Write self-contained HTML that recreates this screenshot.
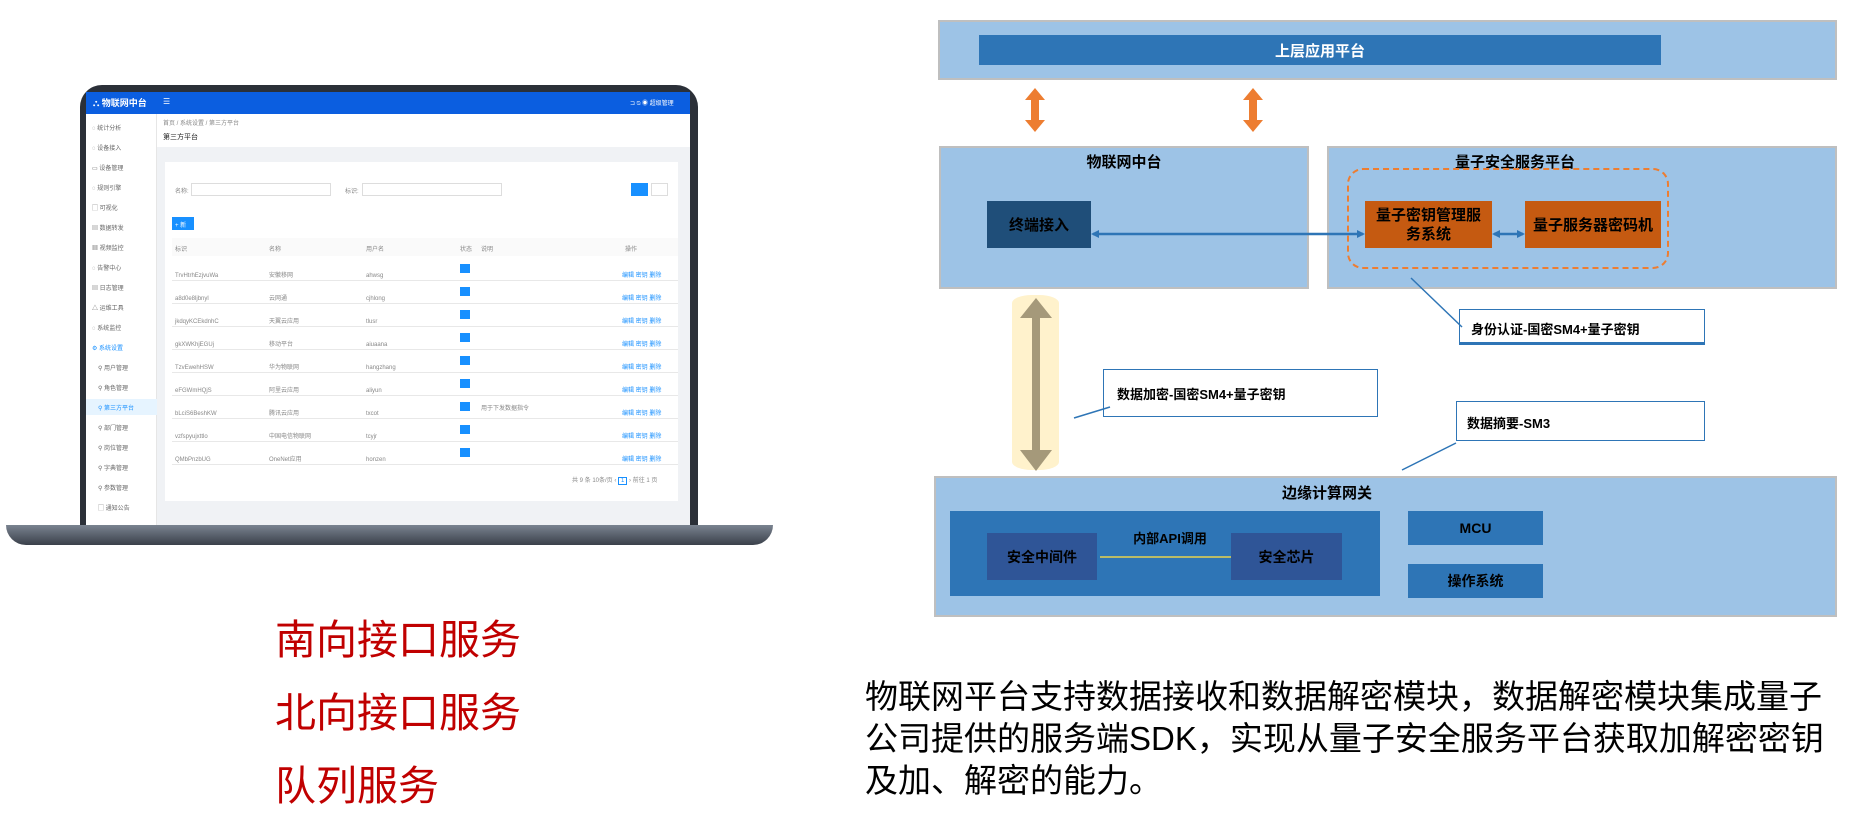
<!DOCTYPE html>
<html><head><meta charset="utf-8"><style>
*{margin:0;padding:0;box-sizing:border-box}
body{width:1852px;height:819px;background:#fff;position:relative;overflow:hidden;font-family:"Liberation Sans","Noto Sans CJK SC",sans-serif}
.a{position:absolute}
.c{display:flex;align-items:center;justify-content:center;text-align:center}
.lb{background:#9dc3e6;border:2px solid #bfbfbf}
.t{font-weight:bold;font-size:15px;color:#000}
.s{font-size:6px;color:#888;white-space:nowrap}
.sb{font-size:6px;color:#666;white-space:nowrap}
</style></head><body>

<div class="a" style="left:80px;top:85px;width:618px;height:448px;background:#2b3038;border-radius:22px 22px 0 0"></div>
<div class="a" style="left:6px;top:525px;width:767px;height:20px;background:linear-gradient(#7a8390,#3a404a);border-radius:0 0 40px 40px"></div>
<div class="a" style="left:86px;top:92px;width:604px;height:433px;background:#f0f2f5"></div>
<div class="a" style="left:86px;top:92px;width:604px;height:22px;background:#0b5ee0"></div>
<div class="a" style="left:93px;top:96px;font-size:9px;color:#fff;font-weight:bold">⛬ 物联网中台</div>
<div class="a" style="left:163px;top:97px;font-size:8px;color:#fff">☰</div>
<div class="a" style="left:630px;top:98px;font-size:6px;color:#fff">⊐ ⍉ ◉ 超级管理</div>
<div class="a" style="left:86px;top:114px;width:71px;height:411px;background:#fff;border-right:1px solid #e6e6e6"></div>
<div class="a" style="left:86px;top:123px">
<div class="sb" style="position:absolute;left:6px;top:0">◌ 统计分析</div>
<div class="sb" style="position:absolute;left:6px;top:20px">◌ 设备接入</div>
<div class="sb" style="position:absolute;left:6px;top:40px">▭ 设备管理</div>
<div class="sb" style="position:absolute;left:6px;top:60px">◌ 规则引擎</div>
<div class="sb" style="position:absolute;left:6px;top:80px">▢ 可视化</div>
<div class="sb" style="position:absolute;left:6px;top:100px">▤ 数据转发</div>
<div class="sb" style="position:absolute;left:6px;top:120px">▦ 视频监控</div>
<div class="sb" style="position:absolute;left:6px;top:140px">◌ 告警中心</div>
<div class="sb" style="position:absolute;left:6px;top:160px">▤ 日志管理</div>
<div class="sb" style="position:absolute;left:6px;top:180px">△ 运维工具</div>
<div class="sb" style="position:absolute;left:6px;top:200px">◌ 系统监控</div>
<div class="sb" style="position:absolute;left:6px;top:220px;color:#1890ff">⚙ 系统设置</div>
<div class="sb" style="position:absolute;left:12px;top:240px">⚲ 用户管理</div>
<div class="sb" style="position:absolute;left:12px;top:260px">⚲ 角色管理</div>
<div class="a" style="left:0;top:276px;width:71px;height:16px;background:#e6f4ff"></div>
<div class="sb" style="position:absolute;left:12px;top:280px;color:#1890ff">⚲ 第三方平台</div>
<div class="sb" style="position:absolute;left:12px;top:300px">⚲ 部门管理</div>
<div class="sb" style="position:absolute;left:12px;top:320px">⚲ 岗位管理</div>
<div class="sb" style="position:absolute;left:12px;top:340px">⚲ 字典管理</div>
<div class="sb" style="position:absolute;left:12px;top:360px">⚲ 参数管理</div>
<div class="sb" style="position:absolute;left:12px;top:380px">▢ 通知公告</div>
</div>
<div class="a" style="left:157px;top:114px;width:533px;height:33px;background:#fff"></div>
<div class="a s" style="left:163px;top:118px">首页 / 系统设置 / 第三方平台</div>
<div class="a" style="left:163px;top:132px;font-size:7px;color:#222">第三方平台</div>
<div class="a" style="left:165px;top:162px;width:513px;height:339px;background:#fff"></div>
<div class="a s" style="left:175px;top:186px">名称: </div>
<div class="a" style="left:191px;top:183px;width:140px;height:13px;border:1px solid #ddd"></div>
<div class="a s" style="left:345px;top:186px">标识: </div>
<div class="a" style="left:362px;top:183px;width:140px;height:13px;border:1px solid #ddd"></div>
<div class="a" style="left:631px;top:183px;width:17px;height:13px;background:#1890ff"></div>
<div class="a" style="left:651px;top:183px;width:17px;height:13px;border:1px solid #ddd"></div>
<div class="a" style="left:172px;top:217px;width:22px;height:13px;background:#1890ff;font-size:6px;color:#fff;padding:3px">+ 新增</div>
<div class="a" style="left:172px;top:238px;width:506px;height:18px;background:#fafafa"></div>
<div class="a s" style="left:175px;top:244px">标识</div><div class="a s" style="left:269px;top:244px">名称</div><div class="a s" style="left:366px;top:244px">用户名</div><div class="a s" style="left:460px;top:244px">状态</div><div class="a s" style="left:481px;top:244px">说明</div><div class="a s" style="left:625px;top:244px">操作</div>
<div class="a" style="left:172px;top:258px;width:506px;height:207px;background:repeating-linear-gradient(#fff 0 22px,#e8e8e8 22px 23px)"></div>
<div class="a" style="left:175px;top:265px;font-size:6px;color:#888;line-height:23px;white-space:pre">TrvHtrhEzjvuWa
a8d0e8ljbnyl
jkdqyKCEkdnhC
gkXWKhjEGUj
TzvEwehHSW
eFGWmHQjS
bLciS6BeshKW
vzfspyujxttlo
QMbPnzbUG</div>
<div class="a" style="left:269px;top:265px;font-size:6px;color:#888;line-height:23px;white-space:pre">安徽移网
云网通
天翼云应用
移动平台
华为物联网
阿里云应用
腾讯云应用
中国电信物联网
OneNet应用</div>
<div class="a" style="left:366px;top:265px;font-size:6px;color:#888;line-height:23px;white-space:pre">ahwsg
cjhlong
tlusr
aiuaana
hangzhang
aliyun
txcot
tcyjr
honzen</div>
<div class="a" style="left:460px;top:264px;width:10px;height:200px;background:repeating-linear-gradient(#1890ff 0 9px,transparent 9px 23px)"></div>
<div class="a s" style="left:481px;top:403px">用于下发数据指令</div>
<div class="a" style="left:622px;top:265px;font-size:6px;color:#1890ff;line-height:23px;white-space:pre">编辑 密钥 删除
编辑 密钥 删除
编辑 密钥 删除
编辑 密钥 删除
编辑 密钥 删除
编辑 密钥 删除
编辑 密钥 删除
编辑 密钥 删除
编辑 密钥 删除</div>
<div class="a s" style="left:572px;top:475px">共 9 条 10条/页 ‹ <span style="border:1px solid #1890ff;color:#1890ff;padding:0 2px">1</span> › 前往 1 页</div>

<div class="a" style="left:275px;top:615px;font-size:41px;color:#c00000;line-height:50px">南向接口服务</div>
<div class="a" style="left:275px;top:688px;font-size:41px;color:#c00000;line-height:50px">北向接口服务</div>
<div class="a" style="left:275px;top:761px;font-size:41px;color:#c00000;line-height:50px">队列服务</div>

<div class="a" style="left:865px;top:676px;font-size:33px;line-height:42px;color:#000;white-space:nowrap">物联网平台支持数据接收和数据解密模块，数据解密模块集成量子<br>公司提供的服务端SDK，实现从量子安全服务平台获取加解密密钥<br>及加、解密的能力。</div>

<div class="a lb" style="left:938px;top:20px;width:899px;height:60px"></div>
<div class="a c t" style="left:979px;top:35px;width:682px;height:30px;background:#2e75b6;color:#fff">上层应用平台</div>

<svg class="a" style="left:0;top:0" width="1852" height="819">
<defs>
<marker id="bl" markerWidth="8" markerHeight="8" refX="6" refY="4" orient="auto-start-reverse" markerUnits="userSpaceOnUse"><path d="M0,0 L8,4 L0,8 z" fill="#2e75b6"/></marker>
</defs>
<g fill="#ed7d31">
<polygon points="1035,88 1045,100 1039,100 1039,120 1045,120 1035,132 1025,120 1031,120 1031,100 1025,100"/>
<polygon points="1253,88 1263,100 1257,100 1257,120 1263,120 1253,132 1243,120 1249,120 1249,100 1243,100"/>
</g>
</svg>

<div class="a lb" style="left:939px;top:146px;width:370px;height:143px"></div>
<div class="a t" style="left:939px;top:151px;width:370px;text-align:center">物联网中台</div>
<div class="a c t" style="left:987px;top:201px;width:104px;height:47px;background:#1f4e79;color:#000">终端接入</div>

<div class="a lb" style="left:1327px;top:146px;width:510px;height:143px"></div>
<div class="a t" style="left:1420px;top:151px;width:190px;text-align:center">量子安全服务平台</div>
<div class="a" style="left:1347px;top:168px;width:322px;height:101px;border:2px dashed #ed7d31;border-radius:16px"></div>
<div class="a c t" style="left:1365px;top:201px;width:127px;height:47px;background:#c55a11;line-height:19px">量子密钥管理服<br>务系统</div>
<div class="a c t" style="left:1525px;top:201px;width:136px;height:47px;background:#c55a11">量子服务器密码机</div>

<div class="a lb" style="left:934px;top:476px;width:903px;height:141px"></div>
<div class="a t" style="left:1227px;top:482px;width:200px;text-align:center">边缘计算网关</div>
<div class="a" style="left:950px;top:511px;width:430px;height:85px;background:#2e75b6"></div>
<div class="a c t" style="left:987px;top:533px;width:110px;height:47px;background:#2f5597;font-size:14px">安全中间件</div>
<div class="a c t" style="left:1231px;top:533px;width:111px;height:47px;background:#2f5597;font-size:14px">安全芯片</div>
<div class="a t" style="left:1130px;top:528px;width:80px;text-align:center;font-size:13px">内部API调用</div>
<div class="a c t" style="left:1408px;top:511px;width:135px;height:34px;background:#2e75b6;font-size:14px">MCU</div>
<div class="a c t" style="left:1408px;top:564px;width:135px;height:34px;background:#2e75b6;font-size:14px">操作系统</div>

<div class="a" style="left:1012px;top:295px;width:47px;height:175px;background:#fff2cc;border-radius:20px/8px"></div>

<div class="a" style="left:1103px;top:369px;width:275px;height:48px;border:1.5px solid #2e75b6;background:#fff;font-size:13px;font-weight:bold;padding:14px 0 0 13px">数据加密-国密SM4+量子密钥</div>
<div class="a" style="left:1459px;top:309px;width:246px;height:36px;border:1.5px solid #2e75b6;border-bottom:3px solid #2e75b6;background:#fff;font-size:13px;font-weight:bold;padding:9px 0 0 11px">身份认证-国密SM4+量子密钥</div>
<div class="a" style="left:1456px;top:401px;width:249px;height:40px;border:1.5px solid #2e75b6;background:#fff;font-size:13px;font-weight:bold;padding:11px 0 0 10px">数据摘要-SM3</div>

<svg class="a" style="left:0;top:0" width="1852" height="819">
<line x1="1093" y1="234" x2="1363" y2="234" stroke="#2e75b6" stroke-width="2.5" marker-start="url(#bl)" marker-end="url(#bl)"/>
<line x1="1494" y1="234" x2="1523" y2="234" stroke="#2e75b6" stroke-width="2.5" marker-start="url(#bl)" marker-end="url(#bl)"/>
<line x1="1100" y1="557" x2="1231" y2="557" stroke="#e8d44d" stroke-width="1.5"/>
<g fill="#a5997a">
<polygon points="1036,298 1052,318 1040,318 1040,450 1052,450 1036,471 1020,450 1032,450 1032,318 1020,318"/>
</g>
<g stroke="#2e75b6" stroke-width="1.5">
<line x1="1074" y1="418" x2="1110" y2="407"/>
<line x1="1411" y1="278" x2="1462" y2="327"/>
<line x1="1402" y1="470" x2="1456" y2="443"/>
</g>
</svg>
</body></html>
